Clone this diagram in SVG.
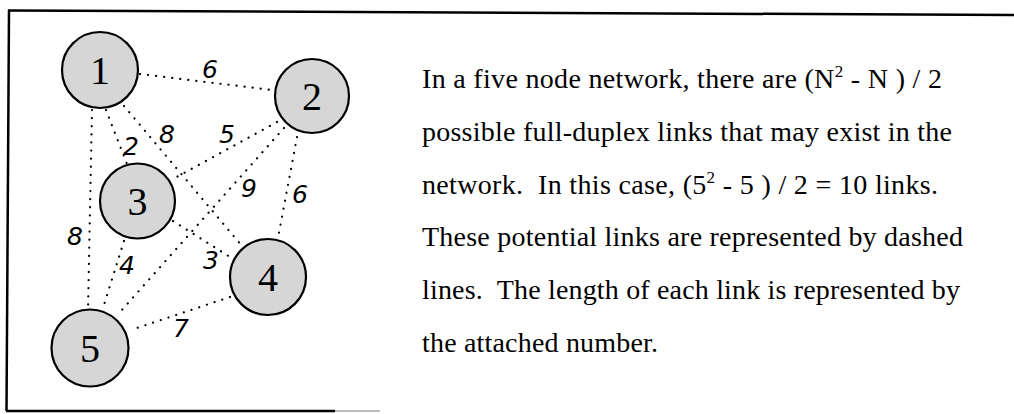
<svg xmlns="http://www.w3.org/2000/svg" width="1014" height="414" viewBox="0 0 1014 414">
<style>
.frame{stroke:#000;stroke-width:2.5;fill:none}
.link{stroke:#000;stroke-width:2.2;stroke-linecap:round;stroke-dasharray:0.1 8;fill:none}
.node circle{fill:#d6d6d6;stroke:#000;stroke-width:2.2}
.node text{font-family:"Liberation Serif",serif;font-size:40px;text-anchor:middle;fill:#000}
.w{font-family:"DejaVu Sans","Liberation Sans",sans-serif;font-style:oblique;font-size:25px;text-anchor:middle;fill:#000;font-weight:200}
.body{font-family:"Liberation Serif",serif;font-size:28px;fill:#000}
</style>
<rect width="1014" height="414" fill="#fff"/>
<g id="frame">
<line class="frame" x1="8" y1="10.5" x2="1014" y2="15"/>
<line class="frame" x1="9" y1="10" x2="6.5" y2="411"/>
<line class="frame" x1="6" y1="411" x2="335" y2="411"/>
<line x1="335" y1="411" x2="380" y2="411" stroke="#bbb" stroke-width="2"/>
</g>
<g id="connectors">
<line class="link" x1="140" y1="74" x2="272" y2="90"/>
<line class="link" x1="106" y1="110" x2="127" y2="164"/>
<line class="link" x1="124" y1="106" x2="242" y2="246"/>
<line class="link" x1="92" y1="110" x2="88" y2="310"/>
<line class="link" x1="277" y1="122" x2="173" y2="179"/>
<line class="link" x1="284" y1="128" x2="121" y2="311"/>
<line class="link" x1="297" y1="137" x2="278" y2="238"/>
<line class="link" x1="173" y1="221" x2="238" y2="262"/>
<line class="link" x1="124" y1="241" x2="103" y2="308"/>
<line class="link" x1="230" y1="297" x2="131" y2="330"/>
<text class="w" x="210" y="78">6</text>
<text class="w" x="167" y="143">8</text>
<text class="w" x="131" y="155">2</text>
<text class="w" x="227" y="143">5</text>
<text class="w" x="249" y="197">9</text>
<text class="w" x="300" y="203">6</text>
<text class="w" x="75" y="245">8</text>
<text class="w" x="127" y="274">4</text>
<text class="w" x="211" y="269">3</text>
<text class="w" x="181" y="337">7</text>
</g>
<g id="node1" class="node"><circle cx="100" cy="70" r="38"/><text x="100" y="84">1</text></g>
<g id="node2" class="node"><circle cx="312" cy="96" r="37"/><text x="312" y="110">2</text></g>
<g id="node3" class="node"><circle cx="137.5" cy="201" r="37.5"/><text x="137.5" y="215">3</text></g>
<g id="node4" class="node"><circle cx="268" cy="277" r="38"/><text x="268" y="291">4</text></g>
<g id="node5" class="node"><circle cx="90" cy="348" r="38.5"/><text x="90" y="362">5</text></g>
<g id="caption" class="body">
<text x="422" y="88" textLength="520" lengthAdjust="spacing">In a five node network, there are (N<tspan font-size="17" dy="-11">2</tspan><tspan dy="11"> - N ) / 2</tspan></text>
<text x="422" y="141" textLength="530" lengthAdjust="spacing">possible full-duplex links that may exist in the</text>
<text x="422" y="194" xml:space="preserve" textLength="516" lengthAdjust="spacing">network.  In this case, (5<tspan font-size="17" dy="-11">2</tspan><tspan dy="11"> - 5 ) / 2 = 10 links.</tspan></text>
<text x="422" y="246" textLength="541" lengthAdjust="spacing">These potential links are represented by dashed</text>
<text x="422" y="299" xml:space="preserve" textLength="538" lengthAdjust="spacing">lines.  The length of each link is represented by</text>
<text x="422" y="352" textLength="236" lengthAdjust="spacing">the attached number.</text>
</g>
</svg>
